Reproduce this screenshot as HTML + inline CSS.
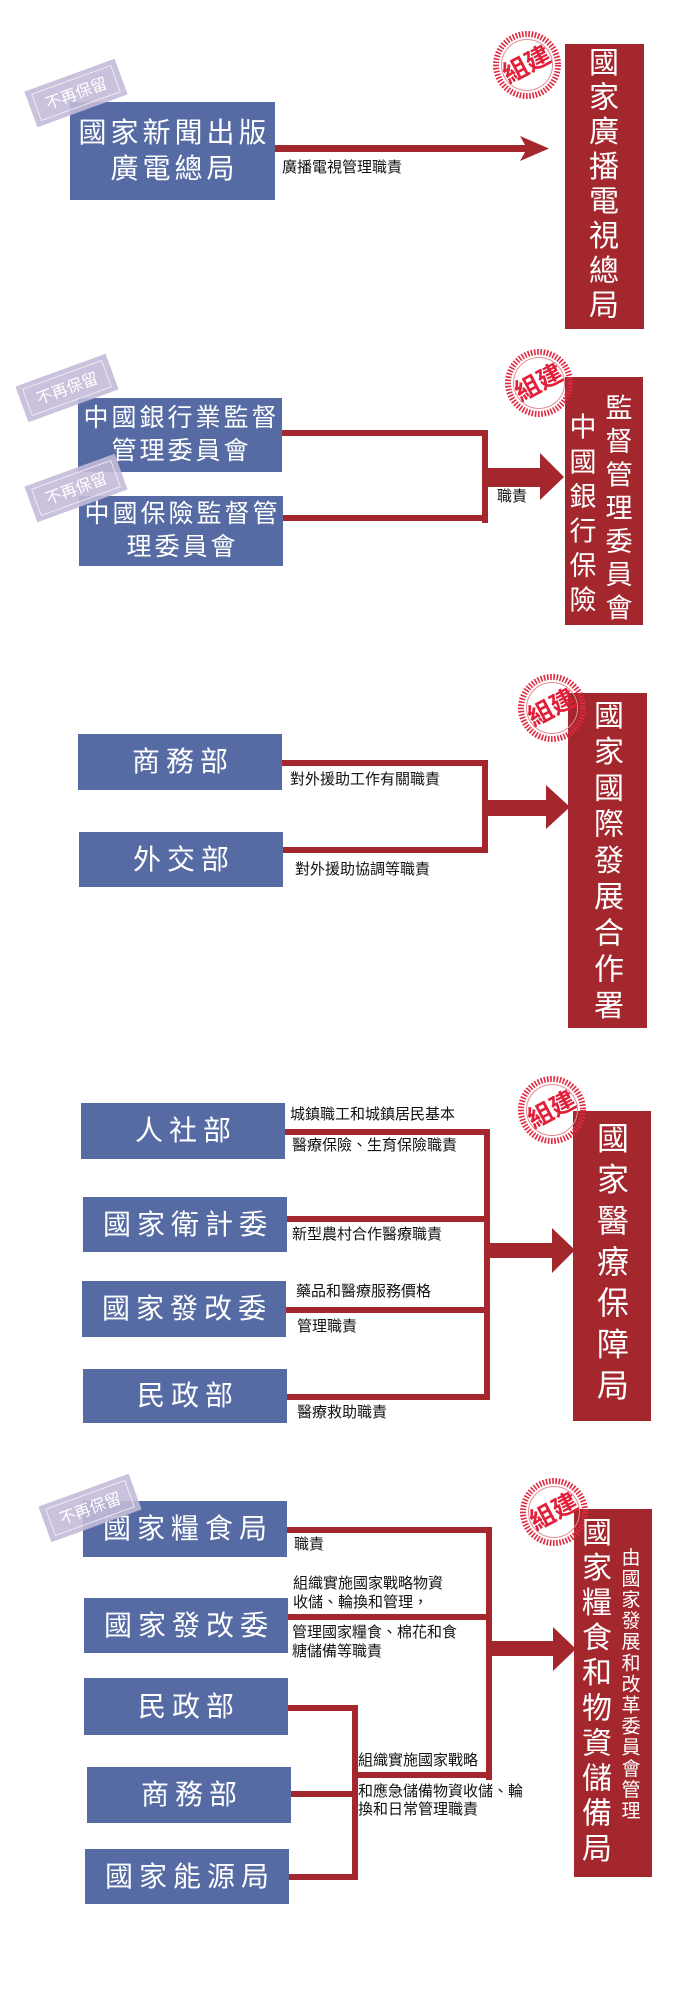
<!DOCTYPE html>
<html><head><meta charset="utf-8">
<style>
html,body{margin:0;padding:0;background:#fff;}
#c{position:relative;width:700px;height:2000px;overflow:hidden;font-family:"Liberation Sans","Noto Sans CJK TC",sans-serif;}
svg{position:absolute;left:0;top:0;}
.b{position:absolute;background:#566ba3;color:#fff;display:flex;align-items:center;justify-content:center;text-align:center;font-size:28px;letter-spacing:6px;line-height:36px;white-space:nowrap;}
.b span{padding-left:6px;}
.l{position:absolute;font-size:15px;color:#111;white-space:nowrap;line-height:18px;}
.vt text{fill:#fff;text-anchor:middle;font-family:"Liberation Sans","Noto Sans CJK TC",sans-serif;}
</style></head><body><div id="c">
<svg width="700" height="2000" viewBox="0 0 700 2000">
<defs>
<g id="stamp">
<circle r="31" fill="none" stroke="#e0283e" stroke-width="6" stroke-dasharray="1.6 1.6"/>
<circle r="25.5" fill="none" stroke="#e88a96" stroke-width="1"/>
<text x="0" y="8" transform="rotate(-28)" text-anchor="middle" font-size="25" font-weight="bold" fill="#e2203a" font-family="Liberation Sans,Noto Sans CJK TC,sans-serif">組建</text>
</g>
</defs>
<g fill="#a4272e">
<rect x="565" y="44" width="79" height="285"/>
<rect x="565" y="377" width="78" height="248"/>
<rect x="568" y="693" width="79" height="335"/>
<rect x="573" y="1111" width="78" height="310"/>
<rect x="574" y="1509" width="78" height="368"/>
<rect x="275" y="145" width="258" height="7"/>
<polygon points="520,136 549,148.5 520,161 527,148.5"/>
<rect x="282" y="430" width="203" height="6"/>
<rect x="283" y="515" width="203" height="6"/>
<rect x="482" y="430" width="6" height="93"/>
<rect x="485" y="468" width="60" height="19"/>
<polygon points="540,453 564,477 540,500"/>
<rect x="282" y="760" width="203" height="6"/>
<rect x="283" y="847" width="203" height="6"/>
<rect x="482" y="760" width="6" height="93"/>
<rect x="485" y="800" width="65" height="16"/>
<polygon points="546,785 570,807 546,829"/>
<rect x="285" y="1129" width="205" height="6"/>
<rect x="287" y="1216" width="203" height="6"/>
<rect x="286" y="1307" width="204" height="6"/>
<rect x="287" y="1394" width="203" height="6"/>
<rect x="484" y="1129" width="6" height="271"/>
<rect x="487" y="1243" width="68" height="15"/>
<polygon points="552,1228 575,1250 552,1273"/>
<rect x="287" y="1527" width="205" height="6"/>
<rect x="288" y="1614" width="204" height="6"/>
<rect x="486" y="1527" width="6" height="253"/>
<rect x="353" y="1772" width="139" height="6"/>
<rect x="352" y="1705" width="6" height="175"/>
<rect x="288" y="1705" width="67" height="6"/>
<rect x="291" y="1791" width="64" height="6"/>
<rect x="289" y="1874" width="66" height="6"/>
<rect x="489" y="1641" width="68" height="15"/>
<polygon points="553,1627 576,1649 553,1671"/>
</g>
<use href="#stamp" x="527" y="65"/>
<use href="#stamp" x="539" y="383"/>
<use href="#stamp" x="552" y="708"/>
<use href="#stamp" x="552" y="1110"/>
<use href="#stamp" x="554" y="1512"/>
<g class="vt">
<g font-size="30">
<text x="604" y="73">國</text><text x="604" y="107.5">家</text><text x="604" y="142">廣</text><text x="604" y="177">播</text><text x="604" y="211.5">電</text><text x="604" y="246">視</text><text x="604" y="281">總</text><text x="604" y="315.5">局</text>
</g>
<g font-size="27">
<text x="583" y="436.7">中</text><text x="583" y="471.3">國</text><text x="583" y="505.9">銀</text><text x="583" y="540.5">行</text><text x="583" y="575.1">保</text><text x="583" y="609.7">險</text>
<text x="619" y="417.7">監</text><text x="619" y="451">督</text><text x="619" y="484.3">管</text><text x="619" y="517.6">理</text><text x="619" y="550.9">委</text><text x="619" y="584.2">員</text><text x="619" y="617.5">會</text>
</g>
<g font-size="30">
<text x="609" y="725.8">國</text><text x="609" y="762">家</text><text x="609" y="798.3">國</text><text x="609" y="834.5">際</text><text x="609" y="870.8">發</text><text x="609" y="907">展</text><text x="609" y="943.3">合</text><text x="609" y="979.5">作</text><text x="609" y="1015.8">署</text>
</g>
<g font-size="32">
<text x="613" y="1149.5">國</text><text x="613" y="1190.7">家</text><text x="613" y="1231.8">醫</text><text x="613" y="1273">療</text><text x="613" y="1314.2">保</text><text x="613" y="1355.3">障</text><text x="613" y="1396.5">局</text>
</g>
<g font-size="30">
<text x="597" y="1542.8">國</text><text x="597" y="1577.9">家</text><text x="597" y="1613">糧</text><text x="597" y="1648.1">食</text><text x="597" y="1683.2">和</text><text x="597" y="1718.4">物</text><text x="597" y="1753.5">資</text><text x="597" y="1788.6">儲</text><text x="597" y="1823.7">備</text><text x="597" y="1858.8">局</text>
</g>
<g font-size="19">
<text x="631" y="1563.8">由</text><text x="631" y="1584.9">國</text><text x="631" y="1606">家</text><text x="631" y="1627.1">發</text><text x="631" y="1648.2">展</text><text x="631" y="1669.3">和</text><text x="631" y="1690.4">改</text><text x="631" y="1711.5">革</text><text x="631" y="1732.6">委</text><text x="631" y="1753.7">員</text><text x="631" y="1774.8">會</text><text x="631" y="1795.9">管</text><text x="631" y="1817">理</text>
</g>
</g>
</svg>

<div class="b" style="left:70px;top:102px;width:205px;height:98px;letter-spacing:4px;"><span style="padding-left:4px">國家新聞出版<br>廣電總局</span></div>
<div class="b" style="left:78px;top:398px;width:204px;height:74px;font-size:25px;letter-spacing:3px;line-height:33px;"><span style="padding-left:3px">中國銀行業監督<br>管理委員會</span></div>
<div class="b" style="left:79px;top:496px;width:204px;height:70px;font-size:25px;letter-spacing:3px;line-height:33px;"><span style="padding-left:3px">中國保險監督管<br>理委員會</span></div>
<div class="b" style="left:78px;top:734px;width:204px;height:56px;"><span>商務部</span></div>
<div class="b" style="left:79px;top:832px;width:204px;height:55px;"><span>外交部</span></div>
<div class="b" style="left:81px;top:1103px;width:204px;height:56px;"><span>人社部</span></div>
<div class="b" style="left:83px;top:1197px;width:204px;height:55px;"><span>國家衛計委</span></div>
<div class="b" style="left:82px;top:1281px;width:204px;height:56px;"><span>國家發改委</span></div>
<div class="b" style="left:83px;top:1369px;width:204px;height:54px;"><span>民政部</span></div>
<div class="b" style="left:83px;top:1501px;width:204px;height:56px;"><span>國家糧食局</span></div>
<div class="b" style="left:84px;top:1598px;width:204px;height:55px;"><span>國家發改委</span></div>
<div class="b" style="left:84px;top:1678px;width:204px;height:57px;"><span>民政部</span></div>
<div class="b" style="left:87px;top:1767px;width:204px;height:56px;"><span>商務部</span></div>
<div class="b" style="left:85px;top:1849px;width:204px;height:55px;"><span>國家能源局</span></div>

<svg width="700" height="2000" viewBox="0 0 700 2000">
<defs>
<g id="gray2">
<rect x="-48" y="-19" width="96" height="38" fill="#c4bbd8" opacity="0.9"/>
<rect x="-42" y="-14" width="84" height="28" fill="none" stroke="#fff" stroke-width="0.8" opacity="0.8"/>
<text x="0" y="6" text-anchor="middle" font-size="16" fill="#fff" font-family="Liberation Sans,Noto Sans CJK TC,sans-serif">不再保留</text>
</g>
</defs>
<use href="#gray2" x="76" y="93" transform="rotate(-20 76 93)"/>
<use href="#gray2" x="67" y="388" transform="rotate(-20 67 388)"/>
<use href="#gray2" x="76" y="488" transform="rotate(-20 76 488)"/>
<use href="#gray2" x="90" y="1508" transform="rotate(-20 90 1508)"/>
</svg>

<div class="l" style="left:282px;top:159px;">廣播電視管理職責</div>
<div class="l" style="left:497px;top:488px;">職責</div>
<div class="l" style="left:290px;top:771px;">對外援助工作有關職責</div>
<div class="l" style="left:295px;top:861px;">對外援助協調等職責</div>
<div class="l" style="left:290px;top:1106px;">城鎮職工和城鎮居民基本</div>
<div class="l" style="left:292px;top:1137px;">醫療保險、生育保險職責</div>
<div class="l" style="left:292px;top:1226px;">新型農村合作醫療職責</div>
<div class="l" style="left:296px;top:1283px;">藥品和醫療服務價格</div>
<div class="l" style="left:297px;top:1318px;">管理職責</div>
<div class="l" style="left:297px;top:1404px;">醫療救助職責</div>
<div class="l" style="left:294px;top:1536px;">職責</div>
<div class="l" style="left:293px;top:1575px;">組織實施國家戰略物資</div>
<div class="l" style="left:293px;top:1594px;">收儲、輪換和管理，</div>
<div class="l" style="left:292px;top:1624px;">管理國家糧食、棉花和食</div>
<div class="l" style="left:292px;top:1643px;">糖儲備等職責</div>
<div class="l" style="left:358px;top:1752px;">組織實施國家戰略</div>
<div class="l" style="left:358px;top:1783px;">和應急儲備物資收儲、輪</div>
<div class="l" style="left:358px;top:1801px;">換和日常管理職責</div>
</div></body></html>
